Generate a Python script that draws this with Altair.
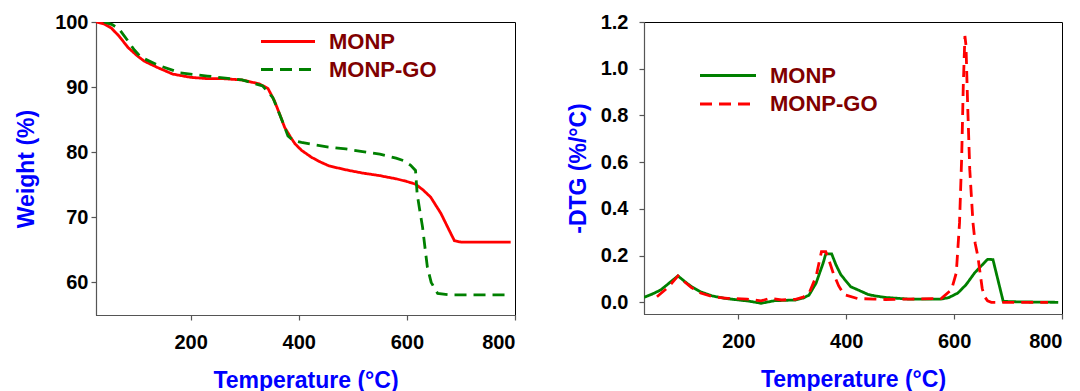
import altair as alt
import pandas as pd

FONT = "Liberation Sans"

# ---------------- data ----------------
series = ["MONP", "MONP-GO"]

# TGA (weight %)
tga_monp_t = [25, 40, 53, 68, 84, 100, 114, 139, 167, 200, 231, 260, 295, 327, 343, 355, 364,
              374, 385, 393, 405, 424, 440, 456, 487, 518, 550, 581, 600, 616, 630, 644, 663, 676,
              688, 700, 750, 792]
tga_monp_w = [100, 99.7, 99.1, 97.8, 96.1, 94.9, 94.0, 93.0, 92.0, 91.5, 91.3, 91.3, 91.1, 90.5,
              89.8, 87.9, 86.0, 83.8, 82.3, 81.3, 80.3, 79.2, 78.5, 77.9, 77.3, 76.8, 76.4, 75.9,
              75.5, 75.1, 74.2, 73.1, 70.6, 68.4, 66.4, 66.2, 66.2, 66.2]

tga_go_t = [40, 55, 68, 84, 96, 108, 139, 180, 231, 295, 333, 352, 372, 380, 390, 405, 455, 487,
            518, 550, 580, 594, 607, 616, 619, 624, 629, 634, 638, 645, 657, 680, 788]
tga_go_w = [100, 99.6, 98.9, 97.1, 95.7, 94.6, 93.4, 92.2, 91.7, 91.1, 90.2, 88.4, 84.3, 82.5,
            81.8, 81.5, 80.8, 80.5, 80.1, 79.7, 79.1, 78.7, 78.0, 77.2, 73.6, 71.0, 68.5, 65.0,
            62.3, 60.0, 58.3, 58.1, 58.1]

# DTG (-%/C)
dtg_monp_t = [25, 40, 56, 72, 88, 100, 113, 130, 152, 175, 200, 220, 242, 267, 306, 320, 331,
              344, 357, 362, 373, 381, 390, 408, 421, 440, 452, 472, 514, 576, 590, 607, 622,
              638, 652, 662, 672, 691, 720, 793]
dtg_monp_d = [0.021, 0.035, 0.053, 0.083, 0.113, 0.090, 0.067, 0.045, 0.027, 0.017, 0.010,
              0.005, -0.004, 0.007, 0.010, 0.018, 0.031, 0.082, 0.167, 0.207, 0.207, 0.160,
              0.118, 0.067, 0.054, 0.034, 0.028, 0.021, 0.014, 0.014, 0.020, 0.040, 0.075,
              0.126, 0.160, 0.184, 0.183, 0.004, 0.002, 0.0]

dtg_go_t = [49, 70, 88, 100, 113, 130, 152, 180, 216, 242, 258, 280, 306, 320, 331, 344, 354,
            362, 368, 376, 386, 396, 421, 452, 472, 520, 576, 595, 604, 610, 614, 617, 620, 622,
            625, 629, 635, 639, 644, 652, 656, 662, 669, 774]
dtg_go_d = [0.024, 0.065, 0.113, 0.088, 0.063, 0.040, 0.024, 0.017, 0.014, 0.006, 0.017, 0.010,
            0.013, 0.022, 0.039, 0.110, 0.217, 0.217, 0.180, 0.124, 0.070, 0.033, 0.016, 0.014,
            0.012, 0.014, 0.016, 0.054, 0.126, 0.340, 0.620, 0.930, 1.140, 1.100, 0.850, 0.568,
            0.340, 0.253, 0.197, 0.060, 0.026, 0.006, 0.0, 0.0]

x_ticks = [200, 400, 600, 800]
tga_ticks = [60, 70, 80, 90, 100]
dtg_ticks = [0.0, 0.2, 0.4, 0.6, 0.8, 1.0, 1.2]


def frame(t, v, name):
    return pd.DataFrame({"T": t, "V": v, "Sample": name})


tga = pd.concat([frame(tga_monp_t, tga_monp_w, "MONP"), frame(tga_go_t, tga_go_w, "MONP-GO")])
dtg = pd.concat([frame(dtg_monp_t, dtg_monp_d, "MONP"), frame(dtg_go_t, dtg_go_d, "MONP-GO")])

DASH = [12, 7]
SOLID = [1, 0]
RED = "#FF0000"
GREEN = "#008000"
LEG_TEXT = "#800000"
LW = 2.8


def x_enc():
    return alt.X("T:Q", scale=alt.Scale(domain=[25, 800], nice=False, zero=False),
                 axis=alt.Axis(values=x_ticks, title="Temperature (°C)", format="d"))


def legend_layers(x0, x1, xt, ys, colors, dashes):
    layers = []
    for name, y, c, d in zip(series, ys, colors, dashes):
        src = pd.DataFrame({"label": [name]})
        layers.append(
            alt.Chart(src).mark_rule(color=c, strokeWidth=3, strokeDash=d).encode(
                x=alt.value(x0), x2=alt.value(x1), y=alt.value(y))
        )
        layers.append(
            alt.Chart(src).mark_text(align="left", baseline="middle", font=FONT, fontSize=22,
                                     fontWeight="bold", color=LEG_TEXT).encode(
                x=alt.value(xt), y=alt.value(y), text="label:N")
        )
    return layers


left_lines = alt.Chart(tga).mark_line(strokeWidth=LW, clip=True).encode(
    x=x_enc(),
    y=alt.Y("V:Q", scale=alt.Scale(domain=[55, 100], nice=False, zero=False),
            axis=alt.Axis(values=tga_ticks, title="Weight (%)", titlePadding=16, labelPadding=3)),
    color=alt.Color("Sample:N", scale=alt.Scale(domain=series, range=[RED, GREEN]), legend=None),
    strokeDash=alt.StrokeDash("Sample:N", scale=alt.Scale(domain=series, range=[SOLID, DASH]),
                              legend=None),
)

left = alt.layer(
    left_lines,
    *legend_layers(165, 219, 233, [19.5, 47.5], [RED, GREEN], [SOLID, DASH]),
).properties(width=419, height=293)

right_lines = alt.Chart(dtg).mark_line(strokeWidth=LW, clip=True).encode(
    x=x_enc(),
    y=alt.Y("V:Q", scale=alt.Scale(domain=[-0.05, 1.2], nice=False, zero=False),
            axis=alt.Axis(values=dtg_ticks, title="-DTG (%/°C)", format=".1f",
                          titlePadding=10, labelPadding=11)),
    color=alt.Color("Sample:N", scale=alt.Scale(domain=series, range=[GREEN, RED]), legend=None),
    strokeDash=alt.StrokeDash("Sample:N", scale=alt.Scale(domain=series, range=[SOLID, DASH]),
                              legend=None),
)

right = alt.layer(
    right_lines,
    *legend_layers(56, 112, 126, [53.5, 82], [GREEN, RED], [SOLID, DASH]),
).properties(width=418, height=292)

chart = alt.hconcat(left, right, spacing=49).resolve_scale(
    color="independent", strokeDash="independent"
).properties(
    padding={"left": 15, "top": 11, "right": 2, "bottom": 2}
).configure_view(
    stroke="black", strokeWidth=1
).configure_axis(
    grid=False,
    domainColor="#555555", domainWidth=1.2,
    tickColor="#555555", tickSize=5, tickWidth=1.2,
    labelFont=FONT, labelFontSize=20, labelFontWeight="bold", labelColor="black",
    titleFont=FONT, titleFontSize=23, titleFontWeight="bold", titleColor="#0000FF",
).configure_axisX(
    labelPadding=12, titlePadding=17,
)

chart.save("out.html", embed_options={"renderer": "svg", "actions": False})
